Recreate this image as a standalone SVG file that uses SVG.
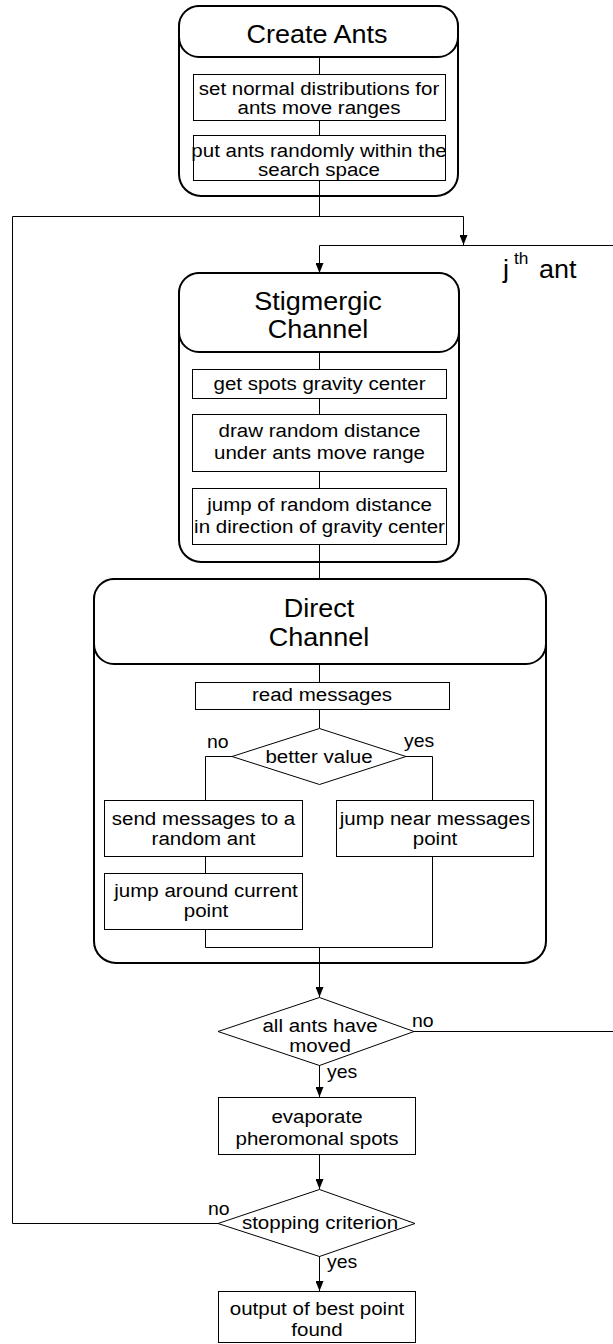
<svg xmlns="http://www.w3.org/2000/svg" width="613" height="1344" viewBox="0 0 613 1344">
<defs>
<style>
text{font-family:"Liberation Sans",Arial,Helvetica,sans-serif;fill:#000;text-anchor:middle}
.big{font-size:25px}
.t{font-size:19px}
.lb{font-size:18px;text-anchor:start}
.box{fill:#fff;stroke:#000;stroke-width:1}
.cont{fill:#fff;stroke:#000;stroke-width:2}
.hdr{fill:#fff;stroke:#000;stroke-width:2}
.ln{fill:none;stroke:#000;stroke-width:1}
.ar{fill:none;stroke:#000;stroke-width:1;marker-end:url(#ah)}
</style>
<marker id="ah" viewBox="0 0 10 8" refX="10" refY="4" markerWidth="10" markerHeight="8" markerUnits="userSpaceOnUse" orient="auto">
<path d="M0,0 L10,4 L0,8 Z" fill="#000"/>
</marker>
</defs>
<rect width="613" height="1344" fill="#fff"/>

<g id="connectors">
<path class="ln" d="M319.5 196 V216.5"/>
<path class="ar" d="M218 1223.5 H12.5 V216.5 H463.5 V245"/>
<path class="ar" d="M414 1031.5 H614 V245.5 H319.5 V273"/>
<path class="ln" d="M319.5 562 V579"/>
<path class="ar" d="M319.5 963 V997"/>
<path class="ar" d="M319.5 1065 V1097"/>
<path class="ar" d="M319.5 1155 V1189"/>
<path class="ar" d="M319.5 1256 V1291"/>
</g>

<g id="create-ants">
<rect class="cont" x="179" y="6" width="279" height="190" rx="22"/>
<rect class="hdr" x="179" y="6" width="279" height="51" rx="20"/>
<text class="big" transform="translate(317 43) scale(1.08 1)">Create Ants</text>
<path class="ln" d="M319.5 57 V74 M319.5 120 V135 M319.5 180 V196"/>
<g id="set-normal">
<rect class="box" x="193.5" y="74.5" width="252" height="46"/>
<text class="t" transform="translate(319 95) scale(1.08 1)">set normal distributions for</text>
<text class="t" transform="translate(319 114) scale(1.08 1)">ants move ranges</text>
</g>
<g id="put-ants">
<rect class="box" x="193.5" y="135.5" width="252" height="45"/>
<text class="t" transform="translate(319 157) scale(1.08 1)">put ants randomly within the</text>
<text class="t" transform="translate(319 176) scale(1.08 1)">search space</text>
</g>
</g>

<g id="jth-ant">
<text style="font-size:25px;text-anchor:start" transform="translate(503 278) scale(1.08 1)">j</text>
<text style="font-size:16px;text-anchor:start" transform="translate(514 264) scale(1.08 1)">th</text>
<text style="font-size:25px;text-anchor:start" transform="translate(539 278) scale(1.08 1)">ant</text>
</g>

<g id="stigmergic">
<rect class="cont" x="179" y="273" width="280" height="289" rx="22"/>
<rect class="hdr" x="179" y="273" width="280" height="79" rx="20"/>
<text class="big" transform="translate(318 310) scale(1.08 1)">Stigmergic</text>
<text class="big" transform="translate(318 338) scale(1.08 1)">Channel</text>
<path class="ln" d="M319.5 352 V369 M319.5 398 V414 M319.5 471 V488 M319.5 544 V562"/>
<g id="gravity-center">
<rect class="box" x="192.5" y="369.5" width="254" height="29"/>
<text class="t" transform="translate(319.5 390) scale(1.08 1)">get spots gravity center</text>
</g>
<g id="draw-random">
<rect class="box" x="192.5" y="414.5" width="254" height="57"/>
<text class="t" transform="translate(319.5 437) scale(1.08 1)">draw random distance</text>
<text class="t" transform="translate(319.5 459) scale(1.08 1)">under ants move range</text>
</g>
<g id="jump-random">
<rect class="box" x="192.5" y="488.5" width="254" height="56"/>
<text class="t" transform="translate(319.5 511) scale(1.08 1)">jump of random distance</text>
<text class="t" transform="translate(319.5 533) scale(1.08 1)">in direction of gravity center</text>
</g>
</g>

<g id="direct">
<rect class="cont" x="94" y="579" width="452" height="384" rx="22"/>
<rect class="hdr" x="94" y="579" width="452" height="85" rx="20"/>
<text class="big" transform="translate(319 617) scale(1.08 1)">Direct</text>
<text class="big" transform="translate(319 646) scale(1.08 1)">Channel</text>
<path class="ln" d="M319.5 664 V682 M319.5 709 V728"/>
<path class="ln" d="M232 756.5 H205.5 V800 M205.5 856 V873 M205.5 929 V947.5 H432.5 V856 M406 756.5 H432.5 V800 M319.5 947.5 V963"/>
<g id="read-messages">
<rect class="box" x="195.5" y="682.5" width="254" height="27"/>
<text class="t" transform="translate(322 701) scale(1.08 1)">read messages</text>
</g>
<g id="better-value">
<polygon class="box" points="232,756.5 319.5,728.5 406,756.5 319.5,784.5"/>
<text class="t" transform="translate(319 763) scale(1.08 1)">better value</text>
<text class="lb" transform="translate(207 748) scale(1.08 1)">no</text>
<text class="lb" transform="translate(404 747) scale(1.08 1)">yes</text>
</g>
<g id="send-messages">
<rect class="box" x="104.5" y="800.5" width="198" height="56"/>
<text class="t" transform="translate(203.5 825) scale(1.08 1)">send messages to a</text>
<text class="t" transform="translate(203.5 845) scale(1.08 1)">random ant</text>
</g>
<g id="jump-around">
<rect class="box" x="104.5" y="873.5" width="198" height="56"/>
<text class="t" transform="translate(206 897) scale(1.08 1)">jump around current</text>
<text class="t" transform="translate(206 917) scale(1.08 1)">point</text>
</g>
<g id="jump-near">
<rect class="box" x="336.5" y="800.5" width="197" height="56"/>
<text class="t" transform="translate(435 825) scale(1.08 1)">jump near messages</text>
<text class="t" transform="translate(435 845) scale(1.08 1)">point</text>
</g>
</g>

<g id="all-ants-moved">
<polygon class="box" points="218,1031.5 319.5,997.5 414,1031.5 319.5,1065.5"/>
<text class="t" transform="translate(320 1032) scale(1.08 1)">all ants have</text>
<text class="t" transform="translate(320 1052) scale(1.08 1)">moved</text>
<text class="lb" transform="translate(412 1027) scale(1.08 1)">no</text>
<text class="lb" transform="translate(327 1078) scale(1.08 1)">yes</text>
</g>

<g id="evaporate">
<rect class="box" x="218.5" y="1097.5" width="197" height="57"/>
<text class="t" transform="translate(317 1123) scale(1.08 1)">evaporate</text>
<text class="t" transform="translate(317 1145) scale(1.08 1)">pheromonal spots</text>
</g>

<g id="stopping">
<polygon class="box" points="218,1223.5 319.5,1189.5 415,1223.5 319.5,1256.5"/>
<text class="t" transform="translate(320 1229) scale(1.08 1)">stopping criterion</text>
<text class="lb" transform="translate(208 1215) scale(1.08 1)">no</text>
<text class="lb" transform="translate(327 1268) scale(1.08 1)">yes</text>
</g>

<g id="output">
<rect class="box" x="218.5" y="1291.5" width="197" height="51"/>
<text class="t" transform="translate(317 1315) scale(1.08 1)">output of best point</text>
<text class="t" transform="translate(317 1336) scale(1.08 1)">found</text>
</g>
</svg>
